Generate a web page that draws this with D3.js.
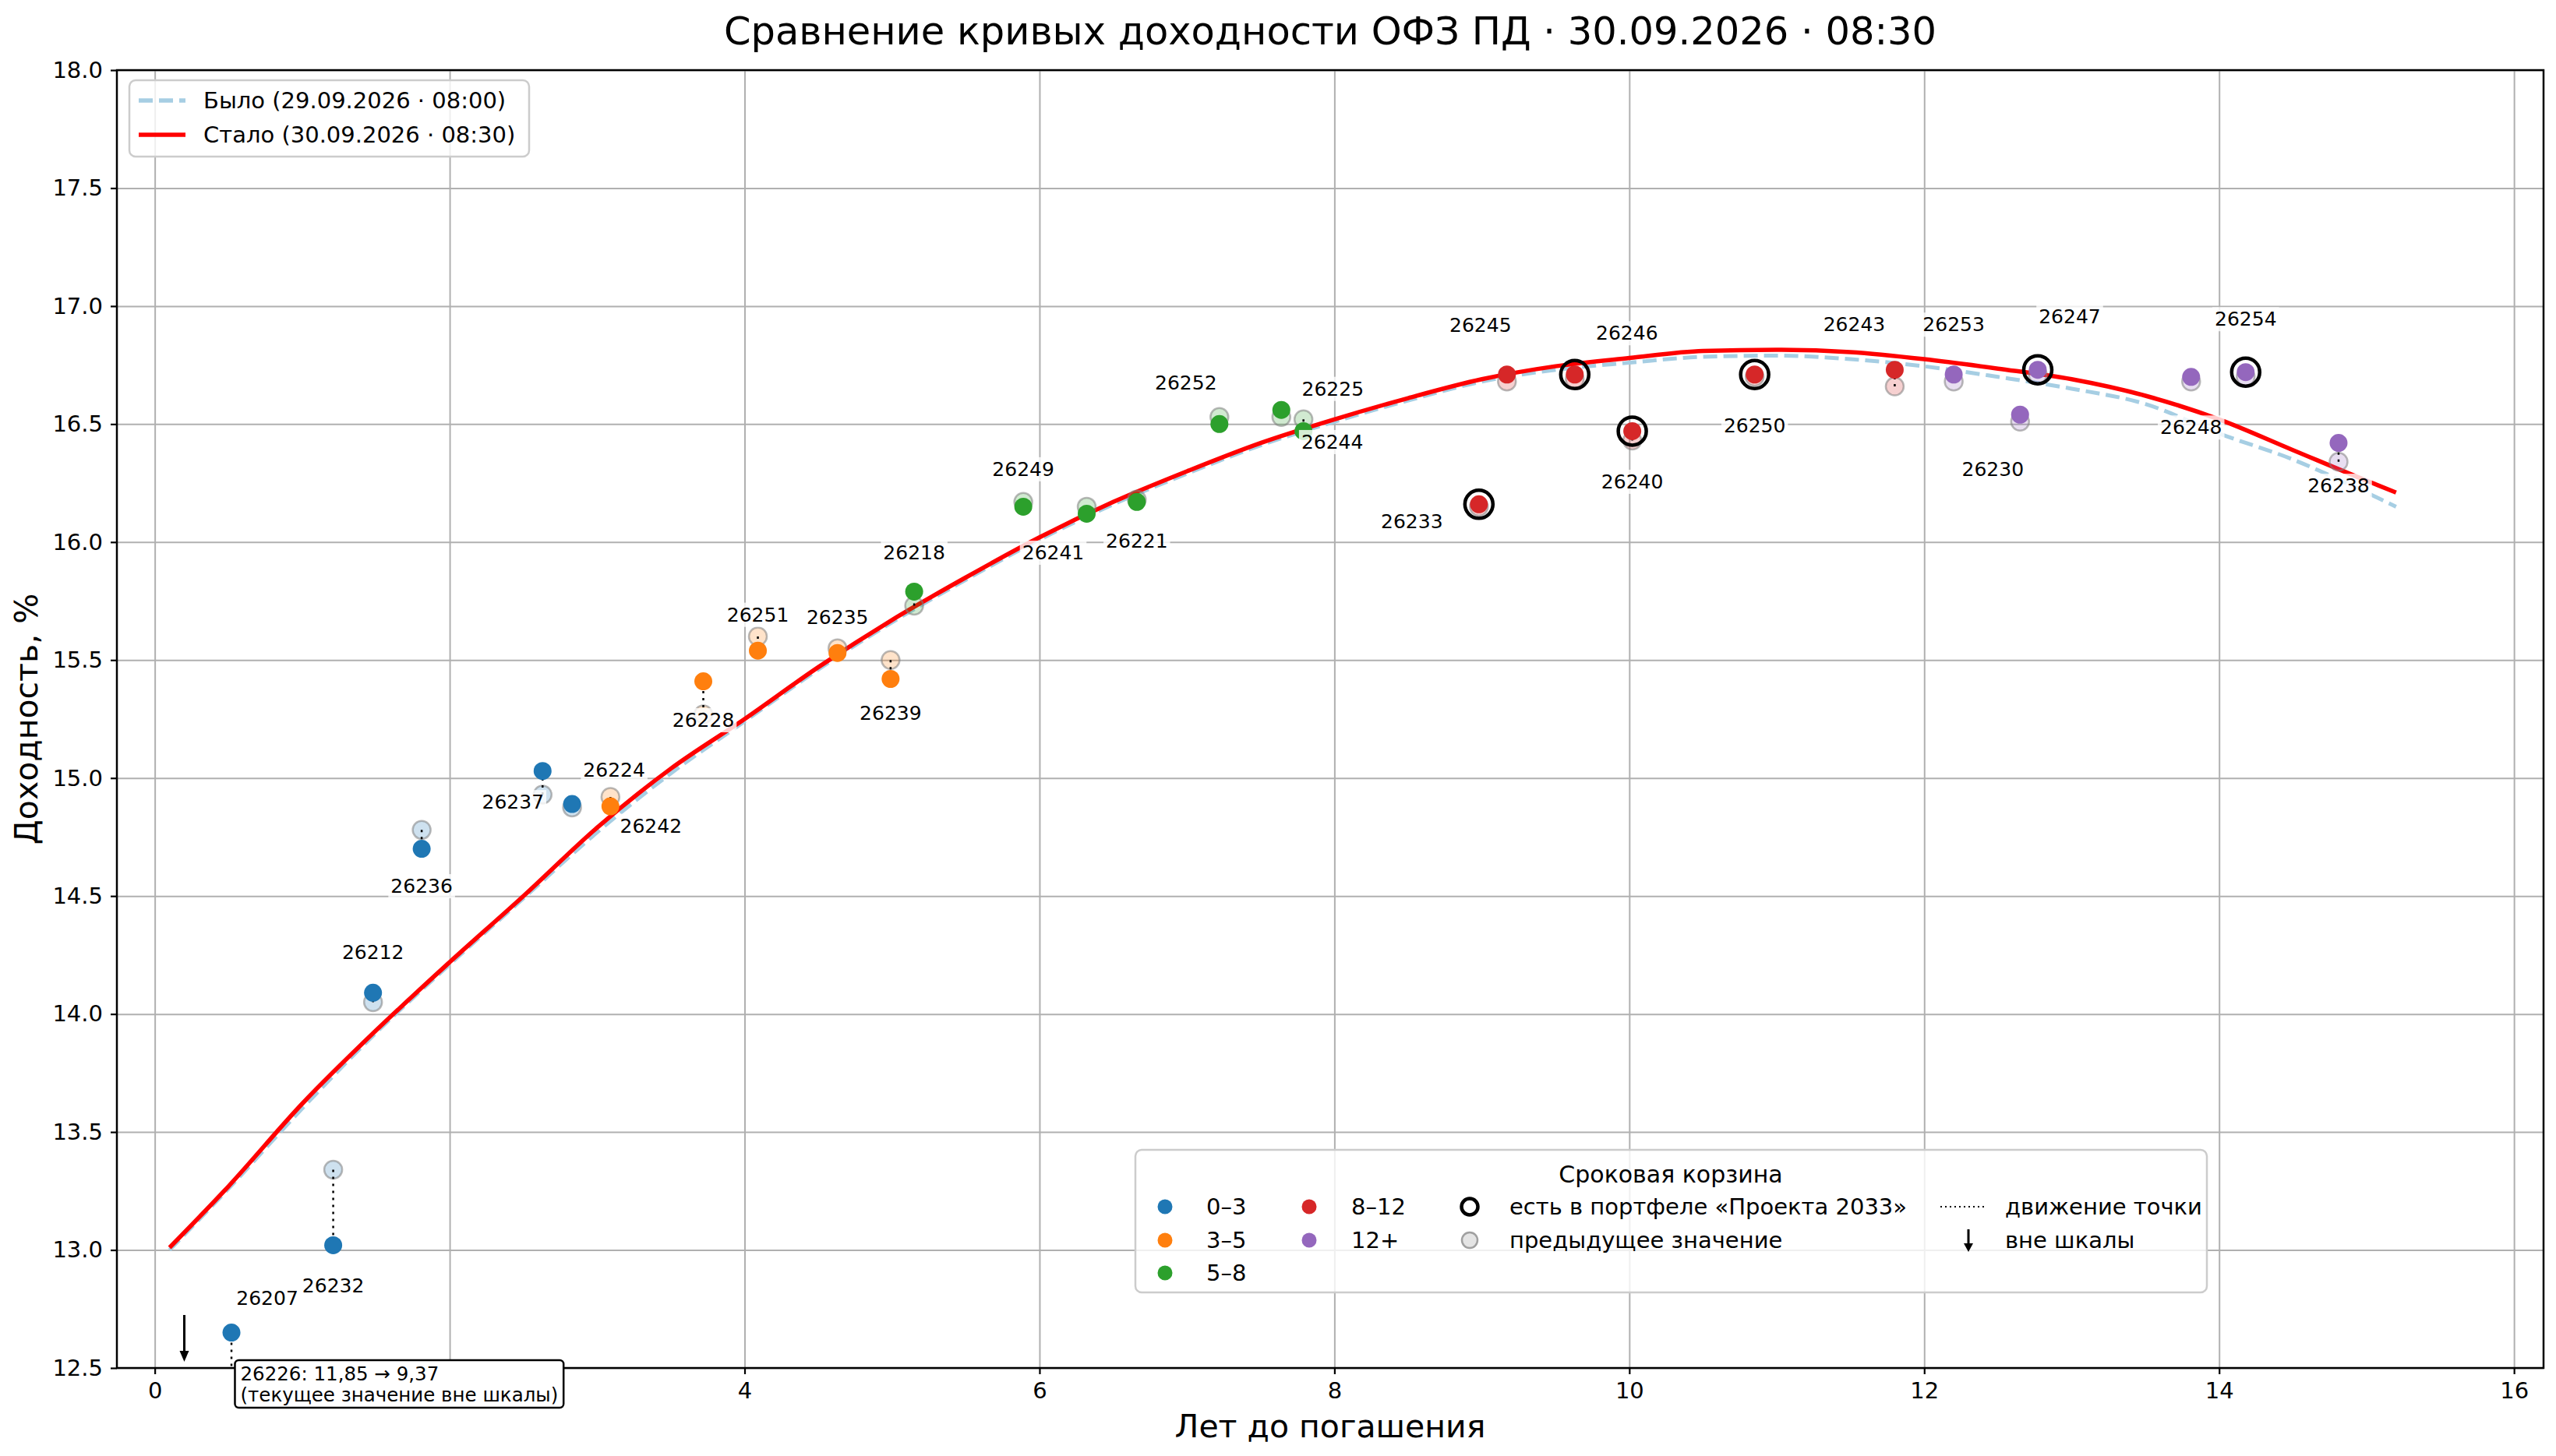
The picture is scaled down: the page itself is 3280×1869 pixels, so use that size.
<!DOCTYPE html>
<html>
<head>
<meta charset="utf-8">
<script src="https://cdn.jsdelivr.net/npm/d3@7"></script>
<style>
  body { margin: 0; background: #fff; }
  text { font-family: "DejaVu Sans", sans-serif; fill: #000; }
</style>
</head>
<body>
<div id="chart"></div>
<script>
// ---- data ----
const tickers     = ['26207','26232','26212','26236','26237','26224','26242','26228','26251','26235','26239','26218','26249','26241','26221','26252','26225','26244','26233','26245','26246','26240','26250','26243','26253','26230','26247','26248','26254','26238'];
const years       = [0.52, 1.21, 1.48, 1.81, 2.63, 2.83, 3.09, 3.72, 4.09, 4.63, 4.99, 5.15, 5.89, 6.32, 6.66, 7.22, 7.64, 7.79, 8.98, 9.17, 9.63, 10.02, 10.85, 11.80, 12.20, 12.65, 12.77, 13.81, 14.18, 14.81];
const yieldNow    = [12.65, 13.02, 14.09, 14.70, 15.03, 14.89, 14.88, 15.41, 15.54, 15.53, 15.42, 15.79, 16.15, 16.12, 16.17, 16.50, 16.56, 16.47, 16.16, 16.71, 16.71, 16.47, 16.71, 16.73, 16.71, 16.54, 16.73, 16.70, 16.72, 16.42];
const yieldPrev   = [12.30, 13.34, 14.05, 14.78, 14.93, 14.875, 14.92, 15.27, 15.60, 15.55, 15.50, 15.73, 16.17, 16.15, 16.18, 16.53, 16.53, 16.52, 16.15, 16.68, 16.69, 16.43, 16.70, 16.66, 16.68, 16.51, 16.71, 16.68, 16.70, 16.34];
const buckets     = ['0–3','0–3','0–3','0–3','0–3','0–3','3–5','3–5','3–5','3–5','3–5','5–8','5–8','5–8','5–8','5–8','5–8','5–8','8–12','8–12','8–12','8–12','8–12','8–12','12+','12+','12+','12+','12+','12+'];
const inPortfolio = ['26233','26246','26240','26250','26247','26254'];

// off-scale bond
const offTicker = '26226';
const offYears = 0.20;
const offPrev = 11.85;
const offNow = 9.37;

// curves
const curveYears = [0.1, 0.5, 1.0, 1.5, 2.0, 2.5, 3.0, 3.5, 4.0, 4.5, 5.0, 5.5, 6.0, 6.5, 7.0, 7.5, 8.0, 8.5, 9.0, 9.5, 10.0, 10.5, 11.0, 11.5, 12.0, 12.5, 13.0, 13.5, 14.0, 14.5, 15.0, 15.2];
const curveNow   = [13.01, 13.27, 13.62, 13.93, 14.22, 14.50, 14.79, 15.04, 15.25, 15.47, 15.67, 15.85, 16.02, 16.17, 16.30, 16.42, 16.52, 16.61, 16.69, 16.745, 16.78, 16.81, 16.815, 16.805, 16.775, 16.735, 16.69, 16.62, 16.52, 16.39, 16.26, 16.21];
const curvePrev  = [13.00, 13.26, 13.60, 13.92, 14.21, 14.49, 14.77, 15.02, 15.24, 15.46, 15.66, 15.84, 16.01, 16.16, 16.29, 16.41, 16.51, 16.60, 16.68, 16.73, 16.76, 16.785, 16.79, 16.775, 16.745, 16.70, 16.65, 16.585, 16.46, 16.35, 16.21, 16.15];

const bucketNames  = ['0–3', '3–5', '5–8', '8–12', '12+'];
const bucketColors = ['#1f77b4', '#ff7f0e', '#2ca02c', '#d62728', '#9467bd'];

const xTicks = [0, 2, 4, 6, 8, 10, 12, 14, 16];
const yTicks = [12.5, 13.0, 13.5, 14.0, 14.5, 15.0, 15.5, 16.0, 16.5, 17.0, 17.5, 18.0];

const title = 'Сравнение кривых доходности ОФЗ ПД · 30.09.2026 · 08:30';
const labelPrev = 'Было (29.09.2026 · 08:00)';
const labelNow = 'Стало (30.09.2026 · 08:30)';

// label offsets in px from the current point (layout only)
const labelOffset = {
  '26207': [46, -44], '26232': [0, 52], '26212': [0, -52], '26236': [0, 48], '26237': [-38, 40],
  '26224': [54, -44], '26242': [52, 25], '26228': [0, 50], '26251': [0, -46], '26235': [0, -46],
  '26239': [0, 44], '26218': [0, -50], '26249': [0, -48], '26241': [-43, 50], '26221': [0, 50],
  '26252': [-43, -53], '26225': [66, -27], '26244': [37, 14], '26233': [-86, 22], '26245': [-34, -63],
  '26246': [67, -53], '26240': [0, 65], '26250': [0, 66], '26243': [-52, -58], '26253': [0, -64],
  '26230': [-35, 70], '26247': [41, -68], '26248': [0, 65], '26254': [0, -68], '26238': [0, 55]
};

// ---- layout ----
const W = 3280, H = 1869;
const PLOT = { LEFT: 150, RIGHT: 3264, TOP: 90, BOTTOM: 1756 };

const svg = d3.select('#chart').append('svg')
  .attr('width', W).attr('height', H);

svg.append('rect').attr('width', W).attr('height', H).attr('fill', '#fff');

const x = d3.scaleLinear().domain([-0.257, 16.2]).range([PLOT.LEFT, PLOT.RIGHT]);
const y = d3.scaleLinear().domain([12.5, 18]).range([PLOT.BOTTOM, PLOT.TOP]);
const color = d3.scaleOrdinal().domain(bucketNames).range(bucketColors);
const fmtComma = v => d3.format('.2f')(v).replace('.', ',');

svg.append('defs').append('clipPath').attr('id', 'clip')
  .append('rect')
  .attr('x', PLOT.LEFT).attr('y', PLOT.TOP)
  .attr('width', PLOT.RIGHT - PLOT.LEFT).attr('height', PLOT.BOTTOM - PLOT.TOP);

// grid
svg.append('g')
  .attr('transform', `translate(0,${PLOT.BOTTOM})`)
  .call(d3.axisBottom(x).tickValues(xTicks).tickSize(-(PLOT.BOTTOM - PLOT.TOP)).tickFormat(''))
  .call(g => g.select('.domain').remove())
  .call(g => g.selectAll('line').attr('stroke', '#b0b0b0').attr('stroke-width', 2));

svg.append('g')
  .attr('transform', `translate(${PLOT.LEFT},0)`)
  .call(d3.axisLeft(y).tickValues(yTicks).tickSize(-(PLOT.RIGHT - PLOT.LEFT)).tickFormat(''))
  .call(g => g.select('.domain').remove())
  .call(g => g.selectAll('line').attr('stroke', '#b0b0b0').attr('stroke-width', 2));

// plot content
const plot = svg.append('g').attr('clip-path', 'url(#clip)');

const line = d3.line()
  .x(d => x(d[0]))
  .y(d => y(d[1]))
  .curve(d3.curveMonotoneX);

plot.append('path')
  .datum(curveYears.map((v, i) => [v, curvePrev[i]]))
  .attr('d', line)
  .attr('fill', 'none')
  .attr('stroke', '#a6cee3')
  .attr('stroke-width', 5)
  .attr('stroke-dasharray', '18,8');

plot.append('path')
  .datum(curveYears.map((v, i) => [v, curveNow[i]]))
  .attr('d', line)
  .attr('fill', 'none')
  .attr('stroke', '#ff0000')
  .attr('stroke-width', 5.5);

const bonds = tickers.map((t, i) => ({
  t, x: years[i], now: yieldNow[i], prev: yieldPrev[i], b: buckets[i],
  port: inPortfolio.includes(t)
}));

// previous values
plot.selectAll('.prev').data(bonds).enter().append('circle')
  .attr('cx', d => x(d.x)).attr('cy', d => y(d.prev)).attr('r', 11.5)
  .attr('fill', d => color(d.b)).attr('fill-opacity', 0.22)
  .attr('stroke', '#808080').attr('stroke-opacity', 0.55).attr('stroke-width', 2.5);

// movement lines (prev -> now)
plot.selectAll('.move').data(bonds).enter().append('line')
  .attr('x1', d => x(d.x)).attr('x2', d => x(d.x))
  .attr('y1', d => y(d.prev)).attr('y2', d => y(d.now))
  .attr('stroke', '#000').attr('stroke-width', 2.5)
  .attr('stroke-dasharray', '3,6');

// current values
plot.selectAll('.now').data(bonds).enter().append('circle')
  .attr('cx', d => x(d.x)).attr('cy', d => y(d.now)).attr('r', 11.5)
  .attr('fill', d => color(d.b));

// portfolio rings
plot.selectAll('.ring').data(bonds.filter(d => d.port)).enter().append('circle')
  .attr('cx', d => x(d.x)).attr('cy', d => y(d.now)).attr('r', 18)
  .attr('fill', 'none').attr('stroke', '#000').attr('stroke-width', 4.5);

// off-scale arrow
const arrowX = x(offYears);
plot.append('line')
  .attr('x1', arrowX).attr('x2', arrowX)
  .attr('y1', PLOT.BOTTOM - 68).attr('y2', PLOT.BOTTOM - 20)
  .attr('stroke', '#000').attr('stroke-width', 3);
plot.append('path')
  .attr('d', `M${arrowX - 6},${PLOT.BOTTOM - 22} L${arrowX + 6},${PLOT.BOTTOM - 22} L${arrowX},${PLOT.BOTTOM - 8} Z`)
  .attr('fill', '#000');

// point labels
const labels = svg.append('g');
bonds.forEach(d => {
  const off = labelOffset[d.t] || [0, -45];
  const g = labels.append('g')
    .attr('transform', `translate(${x(d.x) + off[0]},${y(d.now) + off[1]})`);
  const txt = g.append('text')
    .attr('text-anchor', 'middle')
    .attr('dominant-baseline', 'central')
    .attr('font-size', 25)
    .text(d.t);
  const bb = txt.node().getBBox();
  g.insert('rect', 'text')
    .attr('x', bb.x - 3).attr('y', bb.y - 1)
    .attr('width', bb.width + 6).attr('height', bb.height + 2)
    .attr('fill', '#fff').attr('fill-opacity', 0.8);
});

// spines + axes
svg.append('rect')
  .attr('x', PLOT.LEFT).attr('y', PLOT.TOP)
  .attr('width', PLOT.RIGHT - PLOT.LEFT).attr('height', PLOT.BOTTOM - PLOT.TOP)
  .attr('fill', 'none').attr('stroke', '#000').attr('stroke-width', 2.5);

// annotation box for the off-scale bond
const ann = svg.append('g').attr('transform', `translate(${arrowX + 65},${PLOT.BOTTOM - 10})`);
const annLeft = arrowX + 65;

const xAxis = svg.append('g')
  .attr('transform', `translate(0,${PLOT.BOTTOM})`)
  .call(d3.axisBottom(x).tickValues(xTicks).tickSize(8).tickPadding(10).tickFormat(d3.format('d')));
const yAxis = svg.append('g')
  .attr('transform', `translate(${PLOT.LEFT},0)`)
  .call(d3.axisLeft(y).tickValues(yTicks).tickSize(8).tickPadding(10).tickFormat(d3.format('.1f')));
[xAxis, yAxis].forEach(a => {
  a.select('.domain').remove();
  a.selectAll('line').attr('stroke', '#000').attr('stroke-width', 2.2);
  a.selectAll('text').attr('font-size', 29).attr('font-family', '"DejaVu Sans", sans-serif').attr('fill', '#000');
});

ann.raise();
const annText = ann.append('text').attr('font-size', 24.5);
annText.append('tspan').attr('x', 7).attr('y', 26).text(`${offTicker}: ${fmtComma(offPrev)} → ${fmtComma(offNow)}`);
annText.append('tspan').attr('x', 7).attr('y', 53).text('(текущее значение вне шкалы)');
const abb = annText.node().getBBox();
const annRight = annLeft + abb.width + 14;
ann.insert('rect', 'text')
  .attr('x', 0).attr('y', 0)
  .attr('width', abb.width + 14).attr('height', 61)
  .attr('rx', 5)
  .attr('fill', '#fff').attr('stroke', '#000').attr('stroke-width', 2.5);

// the box hides the tick label underneath it
xAxis.selectAll('.tick').filter(d => x(d) > annLeft && x(d) < annRight)
  .select('text').remove();

// titles
svg.append('text')
  .attr('x', (PLOT.LEFT + PLOT.RIGHT) / 2).attr('y', 57)
  .attr('text-anchor', 'middle').attr('font-size', 49.5)
  .text(title);

svg.append('text')
  .attr('x', (PLOT.LEFT + PLOT.RIGHT) / 2).attr('y', 1845)
  .attr('text-anchor', 'middle').attr('font-size', 41)
  .text('Лет до погашения');

svg.append('text')
  .attr('transform', `translate(48,${(PLOT.TOP + PLOT.BOTTOM) / 2}) rotate(-90)`)
  .attr('text-anchor', 'middle').attr('font-size', 41)
  .text('Доходность, %');

// legend: curves
const lg1 = svg.append('g');
lg1.append('rect')
  .attr('x', 166).attr('y', 103).attr('width', 513).attr('height', 98).attr('rx', 8)
  .attr('fill', '#fff').attr('fill-opacity', 0.8).attr('stroke', '#cccccc').attr('stroke-width', 2.5);
[[labelPrev, '#a6cee3', '18,8', 129], [labelNow, '#ff0000', null, 173]].forEach(([lab, c, dash, yy]) => {
  lg1.append('line')
    .attr('x1', 178).attr('x2', 238).attr('y1', yy).attr('y2', yy)
    .attr('stroke', c).attr('stroke-width', 5.5).attr('stroke-dasharray', dash);
  lg1.append('text').attr('x', 261).attr('y', yy).attr('dominant-baseline', 'central')
    .attr('font-size', 29).text(lab);
});

// legend: buckets and markers
const lg2 = svg.append('g');
lg2.append('rect')
  .attr('x', 1457).attr('y', 1476).attr('width', 1375).attr('height', 183).attr('rx', 8)
  .attr('fill', '#fff').attr('fill-opacity', 0.8).attr('stroke', '#cccccc').attr('stroke-width', 2.5);
lg2.append('text').attr('x', 2144).attr('y', 1507).attr('text-anchor', 'middle')
  .attr('dominant-baseline', 'central').attr('font-size', 30).text('Сроковая корзина');

const rowsY = [1549, 1592, 1634];
const colX = [1495, 1680, 1886, 2519];
const textX = [1548, 1734, 1937, 2573];

bucketNames.forEach((b, i) => {
  const col = i < 3 ? 0 : 1;
  const row = i < 3 ? i : i - 3;
  lg2.append('circle').attr('cx', colX[col]).attr('cy', rowsY[row]).attr('r', 9.5).attr('fill', color(b));
  lg2.append('text').attr('x', textX[col]).attr('y', rowsY[row]).attr('dominant-baseline', 'central')
    .attr('font-size', 29).text(b);
});

lg2.append('circle').attr('cx', colX[2]).attr('cy', rowsY[0]).attr('r', 10.5)
  .attr('fill', 'none').attr('stroke', '#000').attr('stroke-width', 4.5);
lg2.append('text').attr('x', textX[2]).attr('y', rowsY[0]).attr('dominant-baseline', 'central')
  .attr('font-size', 29).text('есть в портфеле «Проекта 2033»');
lg2.append('circle').attr('cx', colX[2]).attr('cy', rowsY[1]).attr('r', 10)
  .attr('fill', '#e4e4e4').attr('stroke', '#a0a0a0').attr('stroke-width', 2.5);
lg2.append('text').attr('x', textX[2]).attr('y', rowsY[1]).attr('dominant-baseline', 'central')
  .attr('font-size', 29).text('предыдущее значение');

lg2.append('line').attr('x1', 2490).attr('x2', 2548).attr('y1', rowsY[0]).attr('y2', rowsY[0])
  .attr('stroke', '#000').attr('stroke-width', 2).attr('stroke-dasharray', '2,4');
lg2.append('text').attr('x', textX[3]).attr('y', rowsY[0]).attr('dominant-baseline', 'central')
  .attr('font-size', 29).text('движение точки');
lg2.append('line').attr('x1', 2526).attr('x2', 2526).attr('y1', rowsY[1] - 14).attr('y2', rowsY[1] + 6)
  .attr('stroke', '#000').attr('stroke-width', 3);
lg2.append('path')
  .attr('d', `M2520,${rowsY[1] + 4} L2532,${rowsY[1] + 4} L2526,${rowsY[1] + 15} Z`)
  .attr('fill', '#000');
lg2.append('text').attr('x', textX[3]).attr('y', rowsY[1]).attr('dominant-baseline', 'central')
  .attr('font-size', 29).text('вне шкалы');
</script>
</body>
</html>
